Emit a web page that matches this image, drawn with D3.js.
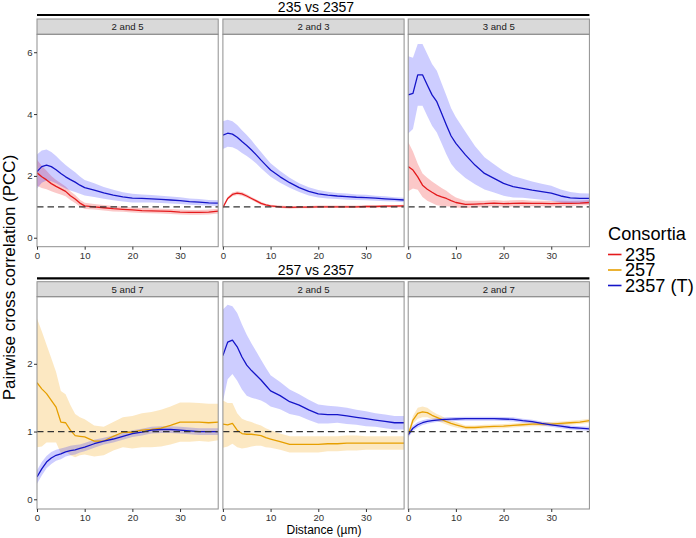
<!DOCTYPE html>
<html>
<head>
<meta charset="utf-8">
<script src="https://cdn.jsdelivr.net/npm/d3@7"></script>
<style>
  html, body { margin: 0; padding: 0; background: #fff; }
  svg { display: block; font-family: "Liberation Sans", Arial, Helvetica, sans-serif; }
</style>
</head>
<body>
<svg id="chart" width="696" height="538"></svg>
<script>
// ---------------- DATA ----------------
const distance = [0,1,2,3,4,5,6,7,8,9,10,12,14,16,18,20,22,24,26,28,30,32,34,36,38];

const seriesNames = ["235", "257", "2357 (T)"];
const rowTitles = ["235 vs 2357", "257 vs 2357"];
const topFacets = ["2 and 5", "2 and 3", "3 and 5"];
const bottomFacets = ["5 and 7", "2 and 5", "2 and 7"];
const xTicks = [0, 10, 20, 30];
const yTicksTop = [0, 2, 4, 6];
const yTicksBottom = [0, 1, 2];

// top row, "2 and 5"
const t25_235     = [2.10,1.97,1.87,1.75,1.66,1.58,1.50,1.36,1.25,1.12,1.03,1.00,0.97,0.94,0.92,0.90,0.88,0.87,0.86,0.85,0.83,0.82,0.82,0.83,0.86];
const t25_235_ci  = [0.42,0.36,0.30,0.25,0.21,0.18,0.16,0.14,0.13,0.11,0.10,0.09,0.09,0.09,0.08,0.08,0.08,0.08,0.08,0.08,0.08,0.08,0.08,0.08,0.08];
const t25_2357    = [2.14,2.30,2.35,2.30,2.20,2.08,1.97,1.88,1.80,1.70,1.62,1.54,1.45,1.38,1.32,1.28,1.27,1.26,1.24,1.22,1.20,1.17,1.15,1.13,1.12];
const t25_2357_ci = [0.55,0.52,0.50,0.47,0.44,0.41,0.38,0.35,0.32,0.28,0.25,0.22,0.19,0.17,0.15,0.14,0.13,0.12,0.12,0.11,0.11,0.10,0.10,0.09,0.09];

// top row, "2 and 3"
const t23_235     = [0.98,1.27,1.40,1.44,1.42,1.35,1.27,1.19,1.11,1.06,1.03,1.00,0.98,0.99,0.99,1.00,1.00,1.00,1.00,1.00,1.01,1.01,1.02,1.02,1.03];
const t23_235_ci  = [0.04,0.05,0.06,0.06,0.06,0.06,0.05,0.05,0.05,0.04,0.04,0.04,0.04,0.04,0.04,0.04,0.04,0.04,0.04,0.04,0.04,0.04,0.04,0.04,0.04];
const t23_2357    = [3.32,3.38,3.35,3.25,3.11,2.98,2.84,2.68,2.51,2.35,2.19,1.97,1.78,1.62,1.50,1.42,1.38,1.35,1.33,1.31,1.30,1.28,1.26,1.24,1.22];
const t23_2357_ci = [0.45,0.44,0.42,0.40,0.37,0.34,0.31,0.28,0.26,0.24,0.22,0.19,0.16,0.14,0.13,0.12,0.11,0.10,0.10,0.09,0.09,0.08,0.08,0.07,0.07];

// top row, "3 and 5"
const t35_235     = [2.30,2.19,1.97,1.70,1.57,1.47,1.38,1.32,1.27,1.20,1.14,1.08,1.09,1.10,1.12,1.10,1.11,1.12,1.11,1.11,1.10,1.11,1.11,1.12,1.14];
const t35_235_ci  = [0.80,0.60,0.42,0.38,0.37,0.35,0.33,0.29,0.25,0.20,0.16,0.12,0.11,0.10,0.10,0.10,0.10,0.10,0.09,0.09,0.09,0.09,0.08,0.08,0.08];
const t35_2357    = [4.62,4.67,5.27,5.27,4.94,4.62,4.40,4.03,3.65,3.29,3.05,2.68,2.35,2.08,1.92,1.76,1.65,1.60,1.54,1.49,1.44,1.35,1.29,1.27,1.27];
const t35_2357_ci = [1.25,1.15,1.00,1.00,1.00,1.00,1.00,0.97,0.95,0.90,0.85,0.75,0.62,0.52,0.46,0.40,0.35,0.31,0.28,0.26,0.24,0.21,0.19,0.17,0.16];

// bottom row, "5 and 7"
const b57_257     = [1.72,1.63,1.56,1.46,1.36,1.14,1.13,1.02,0.94,0.93,0.92,0.86,0.86,0.93,0.99,0.99,1.02,1.03,1.05,1.09,1.14,1.14,1.14,1.13,1.14];
const b57_257_ci  = [0.95,0.85,0.72,0.62,0.52,0.46,0.42,0.37,0.32,0.28,0.26,0.23,0.21,0.21,0.22,0.24,0.25,0.26,0.27,0.28,0.29,0.29,0.28,0.28,0.27];
const b57_2357    = [0.33,0.45,0.55,0.61,0.65,0.67,0.70,0.72,0.73,0.75,0.77,0.82,0.86,0.89,0.93,0.97,0.99,1.02,1.03,1.03,1.02,1.01,1.00,1.00,1.00];
const b57_2357_ci = [0.10,0.10,0.09,0.09,0.08,0.08,0.07,0.07,0.07,0.06,0.06,0.06,0.05,0.05,0.05,0.05,0.05,0.05,0.05,0.05,0.05,0.05,0.05,0.05,0.05];

// bottom row, "2 and 5"
const b25_257     = [1.11,1.10,1.12,1.02,0.97,0.96,0.96,0.95,0.94,0.91,0.89,0.85,0.81,0.81,0.81,0.81,0.82,0.82,0.83,0.83,0.83,0.83,0.83,0.83,0.83];
const b25_257_ci  = [0.35,0.32,0.30,0.25,0.22,0.20,0.18,0.16,0.15,0.14,0.13,0.12,0.12,0.12,0.12,0.12,0.11,0.11,0.11,0.11,0.10,0.10,0.10,0.10,0.10];
const b25_2357    = [2.12,2.32,2.35,2.25,2.10,1.98,1.90,1.83,1.76,1.68,1.60,1.53,1.44,1.39,1.32,1.26,1.25,1.25,1.23,1.21,1.19,1.17,1.15,1.13,1.13];
const b25_2357_ci = [0.68,0.55,0.50,0.50,0.48,0.45,0.40,0.35,0.30,0.26,0.23,0.20,0.18,0.16,0.15,0.14,0.13,0.12,0.12,0.11,0.11,0.10,0.10,0.10,0.10];

// bottom row, "2 and 7"
const b27_257     = [0.95,1.17,1.27,1.29,1.28,1.24,1.21,1.18,1.145,1.12,1.10,1.06,1.06,1.07,1.075,1.08,1.09,1.10,1.11,1.11,1.11,1.12,1.13,1.14,1.16];
const b27_257_ci  = [0.04,0.06,0.08,0.08,0.07,0.06,0.05,0.05,0.04,0.04,0.04,0.03,0.03,0.03,0.03,0.03,0.03,0.03,0.03,0.03,0.03,0.03,0.03,0.03,0.03];
const b27_2357    = [0.95,1.05,1.10,1.13,1.15,1.16,1.17,1.175,1.18,1.183,1.185,1.19,1.19,1.19,1.19,1.185,1.18,1.16,1.145,1.12,1.10,1.08,1.06,1.05,1.04];
const b27_2357_ci = [0.04,0.04,0.04,0.035,0.035,0.03,0.03,0.03,0.03,0.03,0.03,0.03,0.03,0.03,0.03,0.03,0.03,0.03,0.03,0.03,0.03,0.03,0.03,0.03,0.03];

const referenceLine = 1;

// ---------------- STYLE / LAYOUT ----------------
const colors = { "235": "#e41a1c", "257": "#e69f00", "2357 (T)": "#1414c8" };
const fills  = { "235": "#ee2222", "257": "#f2a000", "2357 (T)": "#1a1aff" };
const fillOpacity = { "235": 0.25, "257": 0.24, "2357 (T)": 0.22 };

const panelX = [37, 222.9, 408.2];
const panelW = 181.2;
const rows = [
  { title: rowTitles[0], titleY: 12.2, lineY: 15, stripY: 19, plotY: 34.3, plotB: 246.7,
    yDomain: [-0.29, 6.58], yTicks: yTicksTop, facets: topFacets,
    data: [
      [{s: "235", m: t25_235, ci: t25_235_ci}, {s: "2357 (T)", m: t25_2357, ci: t25_2357_ci}],
      [{s: "235", m: t23_235, ci: t23_235_ci}, {s: "2357 (T)", m: t23_2357, ci: t23_2357_ci}],
      [{s: "235", m: t35_235, ci: t35_235_ci}, {s: "2357 (T)", m: t35_2357, ci: t35_2357_ci}]
    ]},
  { title: rowTitles[1], titleY: 275, lineY: 278.3, stripY: 281.7, plotY: 296.7, plotB: 509,
    yDomain: [-0.143, 2.99], yTicks: yTicksBottom, facets: bottomFacets,
    data: [
      [{s: "257", m: b57_257, ci: b57_257_ci}, {s: "2357 (T)", m: b57_2357, ci: b57_2357_ci}],
      [{s: "257", m: b25_257, ci: b25_257_ci}, {s: "2357 (T)", m: b25_2357, ci: b25_2357_ci}],
      [{s: "257", m: b27_257, ci: b27_257_ci}, {s: "2357 (T)", m: b27_2357, ci: b27_2357_ci}]
    ]}
];

const svg = d3.select("#chart");
const defs = svg.append("defs");

rows.forEach((row, ri) => {
  const y = d3.scaleLinear().domain(row.yDomain).range([row.plotB, row.plotY]);

  // row title + thick line
  svg.append("text")
    .attr("x", 316).attr("y", row.titleY)
    .attr("text-anchor", "middle")
    .attr("font-size", 14).attr("fill", "#000")
    .text(row.title);
  svg.append("line")
    .attr("x1", panelX[0]).attr("x2", panelX[2] + panelW)
    .attr("y1", row.lineY).attr("y2", row.lineY)
    .attr("stroke", "#000").attr("stroke-width", 2.2);

  row.data.forEach((panel, pi) => {
    const x0 = panelX[pi];
    const x = d3.scaleLinear().domain([0, 38]).range([x0, x0 + panelW]);
    const g = svg.append("g");

    // strip
    g.append("rect")
      .attr("x", x0).attr("y", row.stripY)
      .attr("width", panelW).attr("height", row.plotY - row.stripY)
      .attr("fill", "#d9d9d9").attr("stroke", "#8f8f8f").attr("stroke-width", 1);
    g.append("text")
      .attr("x", x0 + panelW / 2).attr("y", (row.stripY + row.plotY) / 2 + 3.4)
      .attr("text-anchor", "middle").attr("font-size", 9.6).attr("fill", "#1a1a1a")
      .text(row.facets[pi]);

    // clip
    const cid = `clip-${ri}-${pi}`;
    defs.append("clipPath").attr("id", cid).append("rect")
      .attr("x", x0).attr("y", row.plotY).attr("width", panelW).attr("height", row.plotB - row.plotY);

    const plot = g.append("g").attr("clip-path", `url(#${cid})`);

    const area = d3.area()
      .x((d, i) => x(distance[i]))
      .y0(d => y(d.lo)).y1(d => y(d.hi));
    const line = d3.line()
      .x((d, i) => x(distance[i]))
      .y(d => y(d));

    panel.forEach(ser => {
      const pts = ser.m.map((v, i) => ({ lo: v - ser.ci[i], hi: v + ser.ci[i] }));
      plot.append("path").attr("d", area(pts))
        .attr("fill", fills[ser.s]).attr("fill-opacity", fillOpacity[ser.s]).attr("stroke", "none");
    });
    panel.forEach(ser => {
      plot.append("path").attr("d", line(ser.m))
        .attr("fill", "none").attr("stroke", colors[ser.s]).attr("stroke-width", 1.3)
        .attr("stroke-linejoin", "round");
    });
    plot.append("line")
      .attr("x1", x(0)).attr("x2", x(38))
      .attr("y1", y(referenceLine)).attr("y2", y(referenceLine))
      .attr("stroke", "#333").attr("stroke-width", 1.3).attr("stroke-dasharray", "6.5,4");

    // border
    g.append("rect")
      .attr("x", x0).attr("y", row.plotY)
      .attr("width", panelW).attr("height", row.plotB - row.plotY)
      .attr("fill", "none").attr("stroke", "#8f8f8f").attr("stroke-width", 1);

    // x axis
    const xa = g.append("g").attr("transform", `translate(0,${row.plotB})`)
      .call(d3.axisBottom(x).tickValues(xTicks).tickSize(3).tickPadding(2).tickFormat(d3.format("d")));
    xa.select(".domain").remove();
    xa.selectAll("line").attr("stroke", "#333");
    xa.selectAll("text").attr("font-size", 9.6).attr("fill", "#333").attr("font-family", null);

    // y axis (leftmost only)
    if (pi === 0) {
      const ya = g.append("g").attr("transform", `translate(${x0},0)`)
        .call(d3.axisLeft(y).tickValues(row.yTicks).tickSize(3).tickPadding(1.5).tickFormat(d3.format("d")));
      ya.select(".domain").remove();
      ya.selectAll("line").attr("stroke", "#333");
      ya.selectAll("text").attr("font-size", 9.6).attr("fill", "#333").attr("font-family", null);
    }
  });
});

// axis titles
svg.append("text")
  .attr("x", 324).attr("y", 533.7)
  .attr("text-anchor", "middle").attr("font-size", 12).attr("fill", "#000")
  .text("Distance (\u00b5m)");
svg.append("text")
  .attr("transform", "translate(15,277.5) rotate(-90)")
  .attr("text-anchor", "middle").attr("font-size", 17).attr("fill", "#000")
  .text("Pairwise cross correlation (PCC)");

// legend
const legend = svg.append("g");
legend.append("text").attr("x", 608).attr("y", 239.5)
  .attr("font-size", 18.2).attr("fill", "#000").text("Consortia");
seriesNames.forEach((s, i) => {
  const by = 260.5 + i * 15.5;
  legend.append("line")
    .attr("x1", 608).attr("x2", 621.5).attr("y1", by - 6).attr("y2", by - 6)
    .attr("stroke", colors[s]).attr("stroke-width", 1.6);
  legend.append("text").attr("x", 625).attr("y", by)
    .attr("font-size", 18.2).attr("fill", "#000").text(s);
});
</script>
</body>
</html>
